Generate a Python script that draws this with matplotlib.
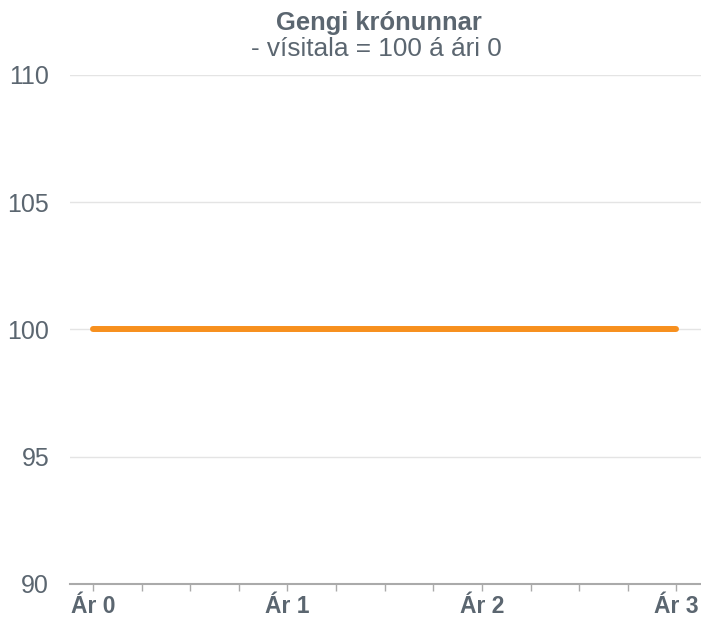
import matplotlib.pyplot as plt
from matplotlib.ticker import MultipleLocator

plt.rcParams['font.family'] = ['Liberation Sans', 'DejaVu Sans']

# Quarterly index values, year 0 to year 3
quarters = [0, 0.25, 0.5, 0.75, 1, 1.25, 1.5, 1.75, 2, 2.25, 2.5, 2.75, 3]
index_values = [100, 100, 100, 100, 100, 100, 100, 100, 100, 100, 100, 100, 100]
year_ticks = [0, 1, 2, 3]
year_labels = ["Ár 0", "Ár 1", "Ár 2", "Ár 3"]
y_ticks = [90, 95, 100, 105, 110]

text_color = "#5b6670"

fig = plt.figure(figsize=(7.01, 6.24), dpi=100)
ax = fig.add_axes([70 / 701, 40 / 624, 631 / 701, 509 / 624])

ax.plot(quarters, index_values, color="#F7901E", linewidth=4.3,
        solid_capstyle="round", zorder=3)

ax.set_xlim(-0.118, 3.126)
ax.set_ylim(90, 110)
ax.set_yticks(y_ticks)
ax.set_xticks(year_ticks)
ax.set_xticklabels(year_labels, fontweight="bold", fontsize=16.5, color=text_color)
ax.xaxis.set_minor_locator(MultipleLocator(0.25))
ax.tick_params(axis="x", which="both", length=5, color="#aaaaaa", width=1, pad=3)
ax.tick_params(axis="y", length=0, labelsize=18, labelcolor=text_color, pad=15)

ax.grid(True, axis="y", color="#e4e4e4", linewidth=1)
for side in ["top", "right", "left"]:
    ax.spines[side].set_visible(False)
ax.spines["bottom"].set_color("#aaaaaa")
ax.spines["bottom"].set_linewidth(1.5)

fig.text(378.5 / 701, 1 - 30 / 624, "Gengi krónunnar", ha="center", va="baseline",
         fontsize=18.4, fontweight="bold", color=text_color)
fig.text(376.5 / 701, 1 - 56 / 624, "- vísitala = 100 á ári 0", ha="center", va="baseline",
         fontsize=18.9, color=text_color)

fig.savefig("out.png", dpi=100)
